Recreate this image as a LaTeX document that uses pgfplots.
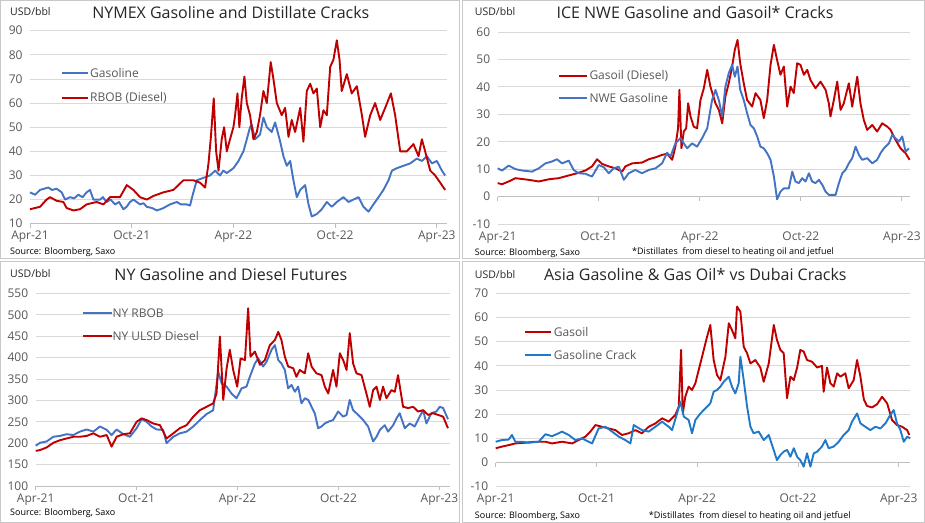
\documentclass[border=0pt]{standalone}
\usepackage{pgfplots}
\pgfplotsset{compat=1.18}
\usepackage{fontspec}
\setmainfont{Open Sans}
\definecolor{cred}{HTML}{C00000}
\definecolor{cblue}{HTML}{4472C4}
\definecolor{cbluetwo}{HTML}{1F78C8}
\definecolor{gridc}{HTML}{D9D9D9}
\definecolor{axc}{HTML}{BFBFBF}
\definecolor{tickc}{HTML}{595959}
\definecolor{titlec}{HTML}{262626}
\definecolor{framec}{HTML}{C8C8C8}
\pgfplotsset{
  crack/.style={
    scale only axis, xmin=0, clip=false,
    axis line style={draw=none},
    major tick length=0pt,
    xtick={0,6,12,18,24},
    xticklabels={Apr-21,Oct-21,Apr-22,Oct-22,Apr-23},
    ymajorgrids, grid style={gridc, line width=0.8bp},
    tick label style={font=\fontsize{12bp}{14bp}\selectfont, text=tickc},
    /pgf/number format/assume math mode=true,
    yticklabel style={xshift=-4bp},
    xticklabel style={yshift=-4bp},
  },
  ser/.style={line width=1.9bp, line join=round},
}
\newcommand{\xticksat}[2]{\pgfplotsinvokeforeach{0,6,12,18,24}{\draw[axc, line width=0.8bp] (axis cs:##1,#1) -- ++(0bp,-4bp);}\draw[axc, line width=0.8bp] (axis cs:0,#1) -- (axis cs:#2,#1);}
\newcommand{\ttl}{\fontsize{16bp}{19bp}\selectfont}
\newcommand{\lgd}{\fontsize{12bp}{14bp}\selectfont}
\newcommand{\usd}{\fontsize{10.5bp}{12bp}\selectfont}
\newcommand{\src}{\fontsize{9bp}{11bp}\selectfont}
\begin{document}
\begin{tikzpicture}
\useasboundingbox (0bp,0bp) rectangle (925bp,523bp);
\fill[white] (0bp,0bp) rectangle (925bp,523bp);
\draw[framec, line width=0.8bp] (0.5bp,264.5bp) rectangle (459.5bp,522.5bp);
\draw[framec, line width=0.8bp] (462.5bp,264.5bp) rectangle (924.5bp,522.5bp);
\draw[framec, line width=0.8bp] (0.5bp,0.5bp) rectangle (459.5bp,261.5bp);
\draw[framec, line width=0.8bp] (462.5bp,0.5bp) rectangle (924.5bp,261.5bp);

% ---------- Panel 1 ----------
\begin{axis}[crack, at={(30bp,299.3bp)}, anchor=south west, width=417bp, height=193bp, xmax=24.6, ymin=10, ymax=90, ytick distance=10]
\xticksat{10}{24.6}
\addplot[ser, cblue] coordinates {(0,23) (0.30,22) (0.59,24) (1.08,25) (1.30,24) (1.57,24.5) (1.87,23) (2.07,20) (2.36,21) (2.60,20.5) (2.85,22) (3.10,21) (3.34,23) (3.54,24) (3.74,20) (4.13,20) (4.30,21) (4.52,19) (4.75,20) (5.02,18) (5.25,19) (5.51,16) (5.70,17) (5.90,19) (6.10,20) (6.49,18) (6.70,18.5) (6.89,17) (7.20,16.5) (7.48,15.5) (7.70,16) (7.87,16.5) (8.26,18) (8.66,19) (8.90,18) (9.25,18) (9.44,17.5) (9.60,22) (9.84,28) (10.23,29) (10.62,30) (10.92,32) (11.21,30) (11.40,32) (11.61,31) (12.00,33) (12.30,36) (12.59,40) (12.79,45) (12.98,50) (13.08,51) (13.28,45) (13.57,47) (13.77,54) (13.97,50) (14.26,48) (14.46,52) (14.76,44) (14.95,38) (15.15,34) (15.35,36) (15.54,28) (15.74,21) (15.94,24) (16.23,26) (16.43,18) (16.62,13) (16.92,14) (17.21,16) (17.51,19) (17.80,17) (18.10,19) (18.49,21) (18.79,19) (19.08,20) (19.38,21) (19.67,17) (19.97,15) (20.26,18) (20.56,21) (20.85,24) (21.15,28) (21.35,32) (21.64,33) (22.03,34) (22.43,35) (22.82,37) (23.12,36) (23.41,38) (23.71,35) (24.00,36) (24.30,32) (24.49,30)};
\addplot[ser, cred] coordinates {(0,16) (0.59,17) (0.98,20) (1.18,21) (1.57,19.5) (1.97,19) (2.16,16.5) (2.56,15.5) (2.95,16) (3.34,18) (3.93,19) (4.33,18) (4.72,21) (5.31,21) (5.71,26) (6.10,24) (6.49,21) (6.89,20) (7.28,21.5) (7.87,23) (8.46,24) (9.05,28) (9.64,28) (10.03,27) (10.33,25) (10.53,35) (10.66,45) (10.84,62) (10.98,40) (11.12,32) (11.31,45) (11.45,50) (11.61,40) (11.80,45) (12.00,50) (12.10,55) (12.24,64) (12.35,50) (12.49,62) (12.65,71) (12.79,60) (12.98,55) (13.18,45) (13.38,48) (13.57,55) (13.77,65) (13.97,60) (14.20,77) (14.36,70) (14.56,60) (14.85,55) (15.05,58) (15.25,46) (15.44,53) (15.64,48) (15.94,58) (16.13,44) (16.33,65) (16.53,68) (16.72,64) (16.92,66) (17.12,50) (17.31,57) (17.51,55) (17.71,75) (17.90,78) (18.10,86) (18.26,78) (18.39,65) (18.69,72) (18.98,64) (19.28,67) (19.58,55) (19.77,46) (20.07,55) (20.36,60) (20.66,53) (20.95,58) (21.29,64) (21.54,55) (21.84,40) (22.23,40) (22.62,43) (22.92,38) (23.12,45) (23.31,40) (23.61,32) (23.90,30) (24.20,27) (24.49,24)};
\end{axis}

% ---------- Panel 2 ----------
\begin{axis}[crack, at={(497.7bp,299bp)}, anchor=south west, width=412.6bp, height=192bp, xmax=24.5, ymin=-10, ymax=60, ytick distance=10]
\xticksat{0}{24.5}
\addplot[ser, cred] coordinates {(0,4.9) (0.26,4.5) (0.65,5.5) (1.05,6.7) (1.45,6.4) (1.84,6.1) (2.44,5.5) (3.03,6.3) (3.62,6.7) (4.22,7.7) (4.71,8.5) (5.21,9.5) (5.60,11) (5.90,13.6) (6.20,11.9) (6.59,11) (6.99,10.3) (7.39,9.1) (7.58,11) (7.98,12.1) (8.57,12.4) (8.97,13.6) (9.37,14.3) (9.76,15.2) (10.06,15.6) (10.36,13.4) (10.55,18.2) (10.71,24.9) (10.79,38.9) (10.91,17.6) (11.05,23.7) (11.19,24.9) (11.31,34) (11.45,29.2) (11.64,25.5) (11.84,24.9) (12.04,35.2) (12.24,39.5) (12.44,46.2) (12.63,40.1) (12.93,34) (13.13,31.6) (13.33,26.7) (13.52,36.5) (13.72,41.3) (13.92,47.4) (14.08,53.5) (14.24,57.1) (14.40,48.6) (14.61,41.3) (14.81,35.2) (15.11,32.8) (15.31,37.7) (15.60,35.2) (15.80,28.6) (16.00,35.2) (16.20,48) (16.40,55.3) (16.59,49.8) (16.79,44.4) (16.99,47.4) (17.19,32.8) (17.39,40.1) (17.58,37.7) (17.78,48.6) (17.98,48) (18.18,44.4) (18.38,46.2) (18.57,42.5) (18.87,39.5) (19.17,41.9) (19.47,38.9) (19.66,34) (19.76,29.2) (19.96,35.2) (20.16,41.9) (20.36,31.6) (20.55,34) (20.85,41.3) (21.05,32.8) (21.35,43.7) (21.54,34) (21.74,27.9) (21.94,24.3) (22.24,26.1) (22.53,23.7) (22.83,26.7) (23.13,25.5) (23.33,24.3) (23.62,20.7) (23.92,17.6) (24.22,15.8) (24.46,13.4)};
\addplot[ser, cblue] coordinates {(0,10.3) (0.26,9.5) (0.65,11.3) (1.05,10) (1.45,9.5) (2.04,9.1) (2.44,10.3) (2.83,12.1) (3.23,12.8) (3.52,13.6) (3.82,12.1) (4.22,13.1) (4.51,9.7) (4.81,8.5) (5.21,8.3) (5.60,7.3) (6.00,11.5) (6.30,10.7) (6.59,8.5) (6.89,10.3) (7.19,10.9) (7.49,6.1) (7.78,8.5) (8.18,9.7) (8.57,8.5) (8.97,9.7) (9.37,10.3) (9.76,12.1) (10.06,16) (10.26,14.6) (10.55,19.4) (10.85,21.3) (11.05,19.4) (11.25,17.6) (11.54,19.4) (11.84,18.2) (12.14,21.3) (12.44,24.9) (12.73,35.2) (12.93,38.9) (13.13,35.2) (13.33,29.2) (13.52,40.1) (13.72,45) (13.92,48) (14.08,43.7) (14.24,47.4) (14.40,38.9) (14.61,35.2) (14.81,30.4) (15.01,26.1) (15.21,24.9) (15.41,21.9) (15.60,18.2) (15.80,17.6) (16.00,15.8) (16.20,13.4) (16.40,7.3) (16.59,-1) (16.79,1.8) (16.99,3) (17.29,3) (17.49,9.1) (17.68,5.5) (17.88,4.9) (18.08,6.7) (18.28,5.5) (18.48,8.5) (18.67,5.5) (18.87,4.9) (19.07,6.1) (19.27,4.3) (19.47,1.8) (19.66,0.6) (19.86,0.6) (20.06,0.6) (20.26,4.9) (20.46,8.5) (20.65,9.7) (20.85,12.1) (21.05,14) (21.25,18.2) (21.45,15.2) (21.64,13.4) (21.94,14) (22.24,12.1) (22.53,13.4) (22.73,15.8) (22.93,17.6) (23.23,19.4) (23.43,22.5) (23.62,21.3) (23.82,20) (24.02,21.9) (24.22,16.4) (24.42,17.6)};
\end{axis}

% ---------- Panel 3 ----------
\begin{axis}[crack, at={(35.7bp,37bp)}, anchor=south west, width=414.3bp, height=192.7bp, xmax=24.63, ymin=100, ymax=550, ytick distance=50]
\xticksat{100}{24.63}
\addplot[ser, cblue] coordinates {(0,194) (0.26,201) (0.65,204) (1.05,215) (1.45,217) (1.84,221) (2.24,219) (2.63,227) (3.03,232) (3.43,227) (3.82,239) (4.22,231) (4.51,219) (4.81,232) (5.21,221) (5.60,215) (6.00,235) (6.30,256) (6.59,250) (6.89,239) (7.19,232) (7.58,231) (7.78,200) (8.18,215) (8.57,223) (8.97,227) (9.37,239) (9.76,254) (10.16,268) (10.55,277) (10.85,367) (11.05,340) (11.35,332) (11.64,316) (11.94,305) (12.24,328) (12.53,332) (12.73,355) (13.03,386) (13.23,398) (13.52,379) (13.72,390) (14.02,418) (14.22,429) (14.42,394) (14.61,386) (14.81,371) (15.01,328) (15.21,336) (15.41,320) (15.60,332) (15.80,293) (16.00,305) (16.20,301) (16.40,285) (16.59,270) (16.79,235) (16.99,239) (17.19,246) (17.39,250) (17.68,254) (17.98,274) (18.28,262) (18.48,266) (18.67,301) (18.87,277) (19.17,266) (19.47,254) (19.76,239) (20.06,204) (20.26,215) (20.46,231) (20.75,242) (20.95,227) (21.25,242) (21.45,258) (21.64,270) (21.94,235) (22.24,246) (22.53,239) (22.83,262) (23.03,277) (23.23,246) (23.52,270) (23.82,274) (24.02,285) (24.22,282) (24.51,256)};
\addplot[ser, cred] coordinates {(0,182) (0.26,184) (0.65,190) (1.05,201) (1.45,207) (1.84,211) (2.24,215) (2.63,215) (3.03,217) (3.43,223) (3.82,215) (4.22,219) (4.51,192) (4.81,215) (5.21,221) (5.60,223) (6.00,250) (6.30,258) (6.59,254) (6.99,246) (7.39,242) (7.78,211) (8.18,223) (8.57,235) (8.97,242) (9.37,262) (9.76,277) (10.16,285) (10.55,293) (10.75,316) (10.95,449) (11.15,301) (11.35,375) (11.54,418) (11.74,371) (11.98,332) (12.18,398) (12.44,394) (12.63,515) (12.77,402) (13.03,414) (13.33,383) (13.62,394) (13.92,429) (14.22,441) (14.42,460) (14.61,441) (14.81,402) (15.01,379) (15.31,375) (15.50,355) (15.70,371) (16.00,363) (16.20,410) (16.40,379) (16.69,363) (16.99,359) (17.19,332) (17.39,316) (17.68,371) (17.88,332) (18.08,410) (18.28,394) (18.48,371) (18.67,457) (18.87,386) (19.07,363) (19.37,359) (19.66,316) (19.86,285) (20.06,324) (20.26,332) (20.46,301) (20.65,332) (20.85,305) (21.15,324) (21.35,320) (21.54,359) (21.84,285) (22.14,282) (22.44,285) (22.73,274) (23.03,277) (23.33,266) (23.62,270) (23.92,266) (24.22,262) (24.51,235)};
\end{axis}

% ---------- Panel 4 ----------
\begin{axis}[crack, at={(495.7bp,36.3bp)}, anchor=south west, width=414.6bp, height=193.4bp, xmax=24.69, ymin=-10, ymax=70, ytick distance=10]
\xticksat{0}{24.69}
\addplot[ser, cred] coordinates {(0,5.9) (0.38,6.6) (0.77,7.2) (1.17,7.9) (1.77,8.2) (2.36,8.6) (2.96,8.6) (3.35,7.9) (3.95,8.6) (4.55,7.9) (4.94,9.3) (5.34,10.7) (5.64,12.8) (5.94,15.5) (6.33,14.8) (6.73,14.1) (7.13,13.4) (7.52,11.4) (7.92,12.1) (8.32,13.4) (8.71,12.1) (9.11,14.8) (9.51,16.2) (9.91,18.3) (10.30,16.9) (10.70,19.7) (10.90,23.1) (11.04,46.6) (11.14,20.3) (11.29,27.2) (11.49,31.4) (11.69,30) (11.89,32.8) (12.09,38.3) (12.29,43.8) (12.59,52.1) (12.78,56.9) (12.98,42.4) (13.18,36.2) (13.38,34.1) (13.68,43.8) (13.88,57.6) (14.07,54.8) (14.27,51.4) (14.37,64.5) (14.57,62.4) (14.77,47.9) (14.97,45.2) (15.17,41) (15.46,42.4) (15.76,39.3) (15.96,33.4) (16.26,41) (16.56,56.9) (16.75,50.7) (16.95,46.6) (17.15,45.2) (17.35,26.6) (17.55,35.5) (17.75,34.1) (17.95,39.3) (18.14,46.6) (18.34,45.9) (18.54,42.4) (18.84,41.7) (19.14,39.3) (19.43,40) (19.53,29.3) (19.73,39.3) (19.93,32.8) (20.13,31.4) (20.33,36.9) (20.53,35.5) (20.82,36.9) (21.02,30.7) (21.32,34.1) (21.52,42.4) (21.72,35.5) (21.92,26.2) (22.11,23.4) (22.41,22.8) (22.71,24.1) (23.01,27.2) (23.31,24.5) (23.60,17.6) (23.90,15.5) (24.20,14.8) (24.50,13.4) (24.63,11.4)};
\addplot[ser, cbluetwo] coordinates {(0,8.6) (0.38,9.3) (0.77,9.5) (0.97,11.4) (1.17,8.6) (1.57,8.6) (1.97,8.2) (2.56,8.6) (2.96,11.7) (3.35,10.9) (3.75,12.1) (3.95,12.8) (4.35,11.4) (4.74,9.3) (5.14,10) (5.74,7.9) (6.13,14.1) (6.53,14.8) (6.93,12.8) (7.33,10.7) (7.72,9.3) (8.02,7.9) (8.22,15.5) (8.71,13.4) (9.11,12.8) (9.51,14.8) (9.91,16.9) (10.30,14.8) (10.50,13.4) (10.80,20.3) (11.00,25.2) (11.20,19) (11.49,17.6) (11.69,12.1) (11.89,17.6) (12.19,20.3) (12.49,22.4) (12.78,24.5) (12.98,29.3) (13.18,30) (13.38,31.4) (13.58,33.4) (13.88,35.5) (14.07,31.4) (14.27,28.6) (14.47,32.8) (14.57,43.8) (14.77,34.1) (14.97,23.1) (15.17,14.8) (15.36,12.1) (15.66,12.8) (15.96,9.3) (16.26,11.4) (16.46,7.2) (16.75,1) (16.95,3.1) (17.15,4.5) (17.35,5.2) (17.55,2.4) (17.75,5.9) (17.95,2.4) (18.14,1) (18.34,-1.7) (18.54,3.8) (18.74,-1.7) (18.94,3.8) (19.14,4.5) (19.43,6.6) (19.63,9.3) (19.83,5.9) (20.13,6.6) (20.43,8.6) (20.72,11.4) (21.02,13.4) (21.22,16.9) (21.52,20.3) (21.72,16.2) (22.01,14.8) (22.31,13.4) (22.61,14.8) (22.91,14.1) (23.21,16.2) (23.50,19.7) (23.70,21.7) (23.90,16.2) (24.10,13.4) (24.30,8.6) (24.50,10.7) (24.69,10)};
\end{axis}

% ---------- texts ----------
\node[text=titlec, inner sep=0] at (230.8bp,510.3bp) {\ttl NYMEX Gasoline and Distillate Cracks};
\node[text=titlec, inner sep=0] at (695bp,510bp) {\ttl ICE NWE Gasoline and Gasoil* Cracks};
\node[text=titlec, inner sep=0] at (230.8bp,248bp) {\ttl NY Gasoline and Diesel Futures};
\node[text=titlec, inner sep=0] at (695.3bp,248bp) {\ttl Asia Gasoline \& Gas Oil* vs Dubai Cracks};

\node[text=titlec, inner sep=0, anchor=west] at (10bp,511.3bp) {\usd USD/bbl};
\node[text=titlec, inner sep=0, anchor=west] at (474.7bp,511bp) {\usd USD/bbl};
\node[text=titlec, inner sep=0, anchor=west] at (10bp,249bp) {\usd USD/bbl};
\node[text=titlec, inner sep=0, anchor=west] at (474.7bp,248bp) {\usd USD/bbl};

\node[text=black, inner sep=0, anchor=west] at (10bp,271.3bp) {\src Source: Bloomberg, Saxo};
\node[text=black, inner sep=0, anchor=west] at (474.7bp,270bp) {\src Source: Bloomberg, Saxo};
\node[text=black, inner sep=0, anchor=west] at (632bp,270.5bp) {\src *Distillates~ from diesel to heating oil and jetfuel};
\node[text=black, inner sep=0, anchor=west] at (10bp,10bp) {\src Source: Bloomberg, Saxo};
\node[text=black, inner sep=0, anchor=west] at (474.7bp,7bp) {\src Source: Bloomberg, Saxo};
\node[text=black, inner sep=0, anchor=west] at (648.7bp,7bp) {\src *Distillates~ from diesel to heating oil and jetfuel};

% legends
\draw[cblue, line width=2bp] (62bp,449.7bp) -- (88bp,449.7bp);
\node[text=tickc, inner sep=0, anchor=west] at (90bp,449.7bp) {\lgd Gasoline};
\draw[cred, line width=2bp] (62bp,424.7bp) -- (88bp,424.7bp);
\node[text=tickc, inner sep=0, anchor=west] at (90bp,424.7bp) {\lgd RBOB (Diesel)};

\draw[cred, line width=2bp] (559.3bp,447bp) -- (587bp,447bp);
\node[text=tickc, inner sep=0, anchor=west] at (589.3bp,447bp) {\lgd Gasoil (Diesel)};
\draw[cblue, line width=2bp] (559.3bp,425.3bp) -- (587bp,425.3bp);
\node[text=tickc, inner sep=0, anchor=west] at (589.3bp,425.3bp) {\lgd NWE Gasoline};

\draw[cblue, line width=2bp] (83.3bp,209.7bp) -- (111.7bp,209.7bp);
\node[text=tickc, inner sep=0, anchor=west] at (112.3bp,209.7bp) {\lgd NY RBOB};
\draw[cred, line width=2bp] (83.3bp,187bp) -- (111.7bp,187bp);
\node[text=tickc, inner sep=0, anchor=west] at (112.3bp,187bp) {\lgd NY ULSD Diesel};

\draw[cred, line width=2bp] (524.7bp,191.3bp) -- (551.3bp,191.3bp);
\node[text=tickc, inner sep=0, anchor=west] at (553.7bp,191.3bp) {\lgd Gasoil};
\draw[cbluetwo, line width=2bp] (524.7bp,168bp) -- (551.3bp,168bp);
\node[text=tickc, inner sep=0, anchor=west] at (553.7bp,168bp) {\lgd Gasoline Crack};
\end{tikzpicture}
\end{document}
